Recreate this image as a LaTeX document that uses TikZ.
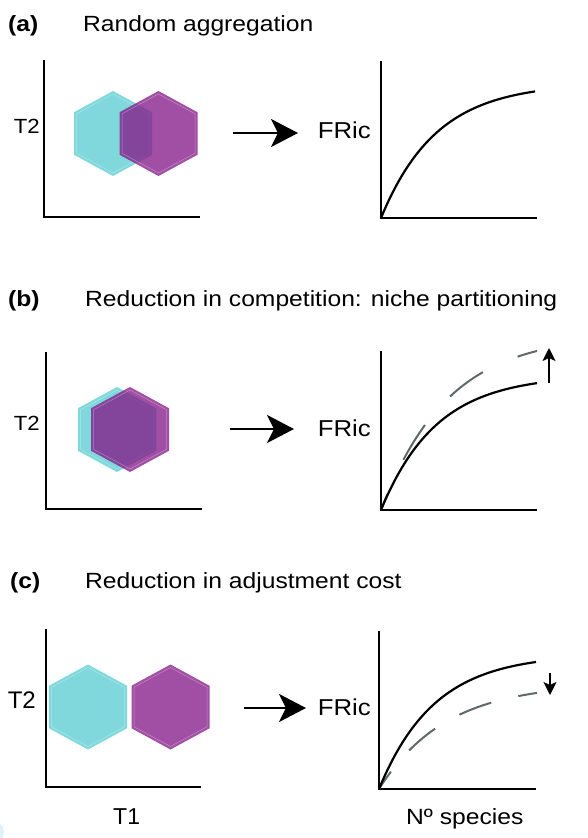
\documentclass[tikz,border=0pt]{standalone}
\usepackage{fontspec}
\setmainfont{Liberation Sans}
\usetikzlibrary{arrows.meta}
\definecolor{hexcyan}{RGB}{128,216,220}
\definecolor{hexpurple}{RGB}{133,26,136}
\definecolor{dashgray}{RGB}{95,105,105}
\definecolor{blobblue}{RGB}{222,241,250}
\newcommand\hs[2]{\scalebox{#1}[1]{#2}}
\newcommand\hexa[3]{%
  \fill[#3] (#1,#2-42.5) -- (#1+39,#2-21.25) -- (#1+39,#2+21.25) -- (#1,#2+42.5) -- (#1-39,#2+21.25) -- (#1-39,#2-21.25) -- cycle;
  \draw[hexline] (#1,#2-39.5) -- (#1+36.5,#2-19.75) -- (#1+36.5,#2+19.75) -- (#1,#2+39.5) -- (#1-36.5,#2+19.75) -- (#1-36.5,#2-19.75) -- cycle;}
\begin{document}
\begin{tikzpicture}[x=1pt,y=-1pt,
  axisline/.style={line width=2.4pt, line join=miter},
  curve/.style={line width=2.2pt},
  dcurve/.style={line width=2pt, draw=dashgray},
  bigarrow/.style={line width=2.6pt, -{Stealth[length=27pt,width=28pt,inset=7pt]}},
  smallarrow/.style={line width=1.6pt, -{Stealth[length=13pt,width=13pt,inset=3pt]}},
  heading/.style={anchor=base west, inner sep=0pt, font=\fontsize{22}{26}\selectfont},
  headlabel/.style={anchor=base west, inner sep=0pt, font=\bfseries\fontsize{22}{26}\selectfont},
  lab/.style={inner sep=0pt, font=\fontsize{23}{27}\selectfont},
  smalllab/.style={inner sep=0pt, font=\fontsize{20.5}{24}\selectfont},
  hexc/.style={fill=hexcyan},
  hexp/.style={fill=hexpurple, fill opacity=.77},
  hexline/.style={draw=white, opacity=.35, line width=.5pt}]
\useasboundingbox (0,0) rectangle (588,838);
\fill[blobblue] (-7,832) circle (11);

% ---------------- panel (a)
\node[headlabel] (la) at (8,31) {\hs{1.12}{(a)}};
\node[heading] (ta) at (83,31) {\hs{1.12}{Random aggregation}};
\coordinate (ao) at (44,217);
\draw[axisline] (44,60) -- (ao) -- (200,217);
\hexa{113}{133.5}{hexc}
\hexa{158.5}{133.5}{hexp}
\node[smalllab, anchor=base east] (t2a) at (40,133) {\hs{1.08}{T2}};
\coordinate (a1) at (233,133);
\coordinate (a2) at (298,133);
\draw[bigarrow] (a1) -- (a2);
\node[lab, anchor=base east] (fa) at (371,138) {\hs{1.12}{FRic}};
\coordinate (ro) at (381,218);
\draw[axisline] (381,61) -- (ro) -- (537,218);
\begin{scope}[shift={(381,218)}]
\draw[curve] plot[domain=0:154, samples=80, smooth] (\x,{-135*(1-exp(-0.018*\x))});
\end{scope}

% ---------------- panel (b)
\node[headlabel] (lb) at (8,306) {\hs{1.12}{(b)}};
\node[heading] (tb) at (85,306) {\hs{1.12}{Reduction in competition: niche partitioning}};
\coordinate (bo) at (46,509);
\draw[axisline] (46,352) -- (bo) -- (202,509);
\hexa{117}{429.5}{hexc}
\hexa{130}{429.5}{hexp}
\node[smalllab, anchor=base east] (t2b) at (40,430) {\hs{1.08}{T2}};
\coordinate (b1) at (230,429);
\coordinate (b2) at (294,429);
\draw[bigarrow] (b1) -- (b2);
\node[lab, anchor=base east] (fb) at (371,436) {\hs{1.12}{FRic}};
\coordinate (rbo) at (381,510);
\draw[axisline] (381,351) -- (rbo) -- (537,510);
\begin{scope}[shift={(381,510)}]
\draw[dcurve, dash pattern=on 41pt off 38pt, dash phase=24pt] plot[domain=0:156, samples=100, smooth] (\x,{-176*(1-exp(-0.015*\x))});
\draw[curve] plot[domain=0:156, samples=80, smooth] (\x,{-135*(1-exp(-0.018*\x))});
\end{scope}
\coordinate (ub1) at (549,383);
\coordinate (ub2) at (549,348);
\draw[smallarrow] (ub1) -- (ub2);

% ---------------- panel (c)
\node[headlabel] (lc) at (10,588) {\hs{1.12}{(c)}};
\node[heading] (tc) at (85,588) {\hs{1.12}{Reduction in adjustment cost}};
\coordinate (co) at (46,787);
\draw[axisline] (46,629) -- (co) -- (201,787);
\hexa{88}{707}{hexc}
\hexa{170.5}{707}{hexp}
\node[lab, anchor=base east, font=\fontsize{24}{28}\selectfont] (t2c) at (36,708) {T2};
\node[lab, anchor=base west] (t1c) at (113,824) {T1};
\coordinate (c1) at (244,708);
\coordinate (c2) at (306,708);
\draw[bigarrow] (c1) -- (c2);
\node[lab, anchor=base east] (fc) at (371,715) {\hs{1.12}{FRic}};
\coordinate (rco) at (379,789);
\draw[axisline] (379,631) -- (rco) -- (536,789);
\begin{scope}[shift={(379,789)}]
\draw[dcurve, dash pattern=on 34pt off 28pt, dash phase=13pt] plot[domain=0:158, samples=100, smooth] (\x,{-106*(1-exp(-0.015*\x))});
\draw[curve] plot[domain=0:157, samples=80, smooth] (\x,{-135*(1-exp(-0.018*\x))});
\end{scope}
\coordinate (dc1) at (550,673);
\coordinate (dc2) at (550,695);
\draw[smallarrow] (dc1) -- (dc2);
\node[lab, anchor=base west, font=\fontsize{22}{26}\selectfont] (ns) at (406,824) {\hs{1.12}{Nº species}};
\end{tikzpicture}
\end{document}
